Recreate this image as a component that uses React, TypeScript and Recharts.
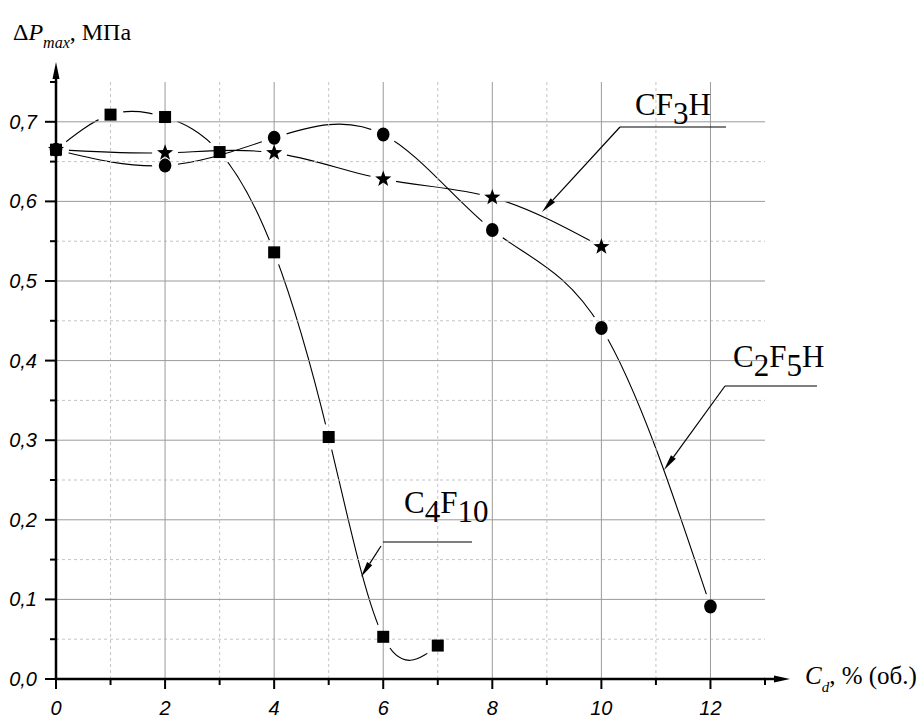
import React from 'react';
import { LineChart, Line, XAxis, YAxis, ReferenceLine } from 'recharts';

// C4F10 (squares)
const c4fX = [0, 1, 2, 3, 4, 5, 6, 7];
const c4fY = [0.665, 0.709, 0.706, 0.662, 0.536, 0.304, 0.053, 0.042];

// C2F5H (circles)
const c2fX = [0, 2, 4, 6, 8, 10, 12];
const c2fY = [0.665, 0.645, 0.68, 0.684, 0.564, 0.441, 0.091];

// CF3H (stars)
const cf3X = [0, 2, 4, 6, 8, 10];
const cf3Y = [0.665, 0.661, 0.661, 0.628, 0.605, 0.543];

const xTicks = [0, 1, 2, 3, 4, 5, 6, 7, 8, 9, 10, 11, 12, 13];
const yTicks = [0, 0.05, 0.1, 0.15, 0.2, 0.25, 0.3, 0.35, 0.4, 0.45, 0.5, 0.55, 0.6, 0.65, 0.7, 0.75];

const gridMajorX = [2, 4, 6, 8, 10, 12];
const gridMinorX = [1, 3, 5, 7, 9, 11];
const gridMajorY = [0.1, 0.2, 0.3, 0.4, 0.5, 0.6, 0.7];
const gridMinorY = [0.05, 0.15, 0.25, 0.35, 0.45, 0.55, 0.65];

const X_MAX = 13;
const Y_MAX = 0.75;
const PLOT_LEFT = 56;
const PLOT_RIGHT = 765;
const PLOT_TOP = 82;
const PLOT_BOTTOM = 679;

const toRows = (xs: number[], ys: number[]) => xs.map((x, i) => ({ x, y: ys[i] }));
const c4fData = toRows(c4fX, c4fY);
const c2fData = toRows(c2fX, c2fY);
const cf3Data = toRows(cf3X, cf3Y);

const tag = (rows: { x: number; y: number }[], kind: string) => rows.map((r) => ({ x: r.x, v: r.y, kind }));
const markData = [...tag(c4fData, 'square'), ...tag(c2fData, 'circle'), ...tag(cf3Data, 'star')];

const SANS = '"Liberation Sans", Arial, sans-serif';
const SERIF = '"Liberation Serif", "Times New Roman", serif';
const MAJOR = '#9a9a9a';
const MINOR = '#c4c4c4';
const GAP_R = 13;

const Star = ({ cx, cy }: { cx: number; cy: number }) => {
  const pts: string[] = [];
  for (let i = 0; i < 10; i++) {
    const r = i % 2 === 0 ? 8.5 : 3.5;
    const a = -Math.PI / 2 + (i * Math.PI) / 5;
    pts.push(`${cx + r * Math.cos(a)},${cy + r * Math.sin(a)}`);
  }
  return <polygon points={pts.join(' ')} fill="#000" />;
};

const MarkDot = (p: any) => {
  const { cx, cy, payload, index } = p;
  if (cx == null || cy == null) return <g key={`m-${index}`} />;
  let shape: React.ReactNode = null;
  if (payload.kind === 'square') shape = <rect x={cx - 6} y={cy - 6} width={12} height={12} fill="#000" />;
  else if (payload.kind === 'circle') shape = <ellipse cx={cx} cy={cy} rx={6.3} ry={7} fill="#000" />;
  else shape = <Star cx={cx} cy={cy} />;
  return <g key={`m-${index}`}>{shape}</g>;
};

const XTick = ({ x, y, payload }: any) => {
  const v = payload.value;
  const major = v % 2 === 0;
  return (
    <g>
      <line x1={x} y1={y} x2={x} y2={y + (major ? 10 : 6)} stroke="#000" strokeWidth={2} />
      {major && (
        <text x={x} y={y + 36} textAnchor="middle" fontFamily={SANS} fontStyle="italic" fontSize={20} fill="#000">
          {v}
        </text>
      )}
    </g>
  );
};

const YTick = ({ x, y, payload }: any) => {
  const v = payload.value;
  const major = Math.round(v * 100) % 10 === 0;
  return (
    <g>
      <line x1={x - (major ? 11 : 6)} y1={y} x2={x} y2={y} stroke="#000" strokeWidth={2} />
      {major && (
        <text x={x - 19} y={y + 7} textAnchor="end" fontFamily={SANS} fontStyle="italic" fontSize={20} fill="#000">
          {v.toFixed(1).replace('.', ',')}
        </text>
      )}
    </g>
  );
};

// arrow from (x1,y1) to tip (x2,y2)
const Arrow = ({ x1, y1, x2, y2 }: { x1: number; y1: number; x2: number; y2: number }) => {
  const dx = x2 - x1;
  const dy = y2 - y1;
  const len = Math.hypot(dx, dy);
  const ux = dx / len;
  const uy = dy / len;
  const bx = x2 - ux * 16;
  const by = y2 - uy * 16;
  const pts = `${x2},${y2} ${bx - uy * 3},${by + ux * 3} ${bx + uy * 3},${by - ux * 3}`;
  return (
    <g>
      <line x1={x1} y1={y1} x2={bx} y2={by} stroke="#000" strokeWidth={1.2} />
      <polygon points={pts} fill="#000" />
    </g>
  );
};

const curves = [
  { key: 'c4f', data: c4fData },
  { key: 'c2f', data: c2fData },
  { key: 'cf3', data: cf3Data },
];

// masks that open a small gap in each curve around its own markers (Origin style)
const GapMasks = () => (
  <svg width={0} height={0} style={{ position: 'absolute' }}>
    <defs>
      {curves.map((s) => (
        <mask key={s.key} id={`gap-${s.key}`} maskUnits="userSpaceOnUse" x={0} y={0} width={921} height={720}>
          <rect x={0} y={0} width={921} height={720} fill="#fff" />
          {s.data.map((r, i) => (
            <circle
              key={i}
              cx={PLOT_LEFT + (r.x / X_MAX) * (PLOT_RIGHT - PLOT_LEFT)}
              cy={PLOT_BOTTOM - (r.y / Y_MAX) * (PLOT_BOTTOM - PLOT_TOP)}
              r={GAP_R}
              fill="#000"
            />
          ))}
        </mask>
      ))}
    </defs>
  </svg>
);

const maskCss = curves.map((s) => `.curve-${s.key} .recharts-line-curve { mask: url(#gap-${s.key}); }`).join('\n');

const Overlay = () => (
  <svg
    width={921}
    height={720}
    style={{ position: 'absolute', left: 0, top: 0, pointerEvents: 'none' }}
  >
    {/* axis arrows */}
    <line x1={56} y1={83} x2={56} y2={76} stroke="#000" strokeWidth={2.5} />
    <polygon points="56,62 52.5,79 59.5,79" fill="#000" />
    <line x1={764} y1={679} x2={777} y2={679} stroke="#000" strokeWidth={2.5} />
    <polygon points="790,679 774,675.5 774,682.5" fill="#000" />

    {/* axis titles */}
    <text x={13} y={40} fontFamily={SERIF} fontSize={24} fill="#000">
      Δ<tspan fontStyle="italic">P</tspan>
      <tspan fontStyle="italic" fontSize={16} dy={8}>max</tspan>
      <tspan dy={-8}>, МПа</tspan>
    </text>
    <text x={805} y={684} fontFamily={SERIF} fontSize={25} fill="#000">
      <tspan fontStyle="italic">C</tspan>
      <tspan fontStyle="italic" fontSize={15} dy={8}>d</tspan>
      <tspan dy={-8}>, % (об.)</tspan>
    </text>

    {/* series labels */}
    <text x={635} y={115} fontFamily={SERIF} fontSize={31} fill="#000">
      CF<tspan dy={9}>3</tspan><tspan dy={-9}>H</tspan>
    </text>
    <line x1={620} y1={127} x2={726} y2={127} stroke="#000" strokeWidth={1.2} />
    <Arrow x1={620} y1={127} x2={542} y2={212} />

    <text x={733} y={367} fontFamily={SERIF} fontSize={31} fill="#000">
      C<tspan dy={9}>2</tspan><tspan dy={-9}>F</tspan><tspan dy={9}>5</tspan><tspan dy={-9}>H</tspan>
    </text>
    <line x1={725} y1={386} x2={817} y2={386} stroke="#000" strokeWidth={1.2} />
    <Arrow x1={725} y1={386} x2={664} y2={470} />

    <text x={404} y={513} fontFamily={SERIF} fontSize={31} fill="#000">
      C<tspan dy={9}>4</tspan><tspan dy={-9}>F</tspan><tspan dy={9}>10</tspan>
    </text>
    <line x1={383} y1={542} x2={472} y2={542} stroke="#000" strokeWidth={1.2} />
    <Arrow x1={381} y1={546} x2={361} y2={577} />
  </svg>
);

export default function App() {
  return (
    <div style={{ position: 'absolute', left: 0, top: 0, width: 921, height: 720, background: '#fff' }}>
      <style>{maskCss}</style>
      <GapMasks />
      <LineChart
        width={921}
        height={720}
        margin={{ top: PLOT_TOP, right: 921 - PLOT_RIGHT, bottom: 0, left: 0 }}
      >
        {curves.map((s) => (
          <Line
            key={`curve-${s.key}`}
            className={`curve-${s.key}`}
            data={s.data}
            dataKey="y"
            type="natural"
            stroke="#000"
            strokeWidth={1.1}
            dot={false}
            activeDot={false}
            isAnimationActive={false}
            zIndex={100}
          />
        ))}

        <Line
          data={markData}
          dataKey="v"
          type="linear"
          stroke="none"
          dot={MarkDot}
          activeDot={false}
          isAnimationActive={false}
          zIndex={150}
        />

        {gridMinorX.map((v) => (
          <ReferenceLine key={`gx-${v}`} x={v} stroke={MINOR} strokeDasharray="3 3" strokeWidth={1} zIndex={200} />
        ))}
        {gridMinorY.map((v) => (
          <ReferenceLine key={`gy-${v}`} y={v} stroke={MINOR} strokeDasharray="3 3" strokeWidth={1} zIndex={200} />
        ))}
        {gridMajorX.map((v) => (
          <ReferenceLine key={`mx-${v}`} x={v} stroke={MAJOR} strokeWidth={1} zIndex={200} />
        ))}
        {gridMajorY.map((v) => (
          <ReferenceLine key={`my-${v}`} y={v} stroke={MAJOR} strokeWidth={1} zIndex={200} />
        ))}

        <XAxis
          type="number"
          dataKey="x"
          domain={[0, X_MAX]}
          ticks={xTicks}
          interval={0}
          height={41}
          tickSize={0}
          tickMargin={0}
          tickLine={false}
          tick={XTick}
          axisLine={{ stroke: '#000', strokeWidth: 2.5 }}
        />
        <YAxis
          type="number"
          domain={[0, Y_MAX]}
          ticks={yTicks}
          interval={0}
          width={PLOT_LEFT}
          tickSize={0}
          tickMargin={0}
          tickLine={false}
          tick={YTick}
          axisLine={{ stroke: '#000', strokeWidth: 2.5 }}
        />
      </LineChart>
      <Overlay />
    </div>
  );
}
